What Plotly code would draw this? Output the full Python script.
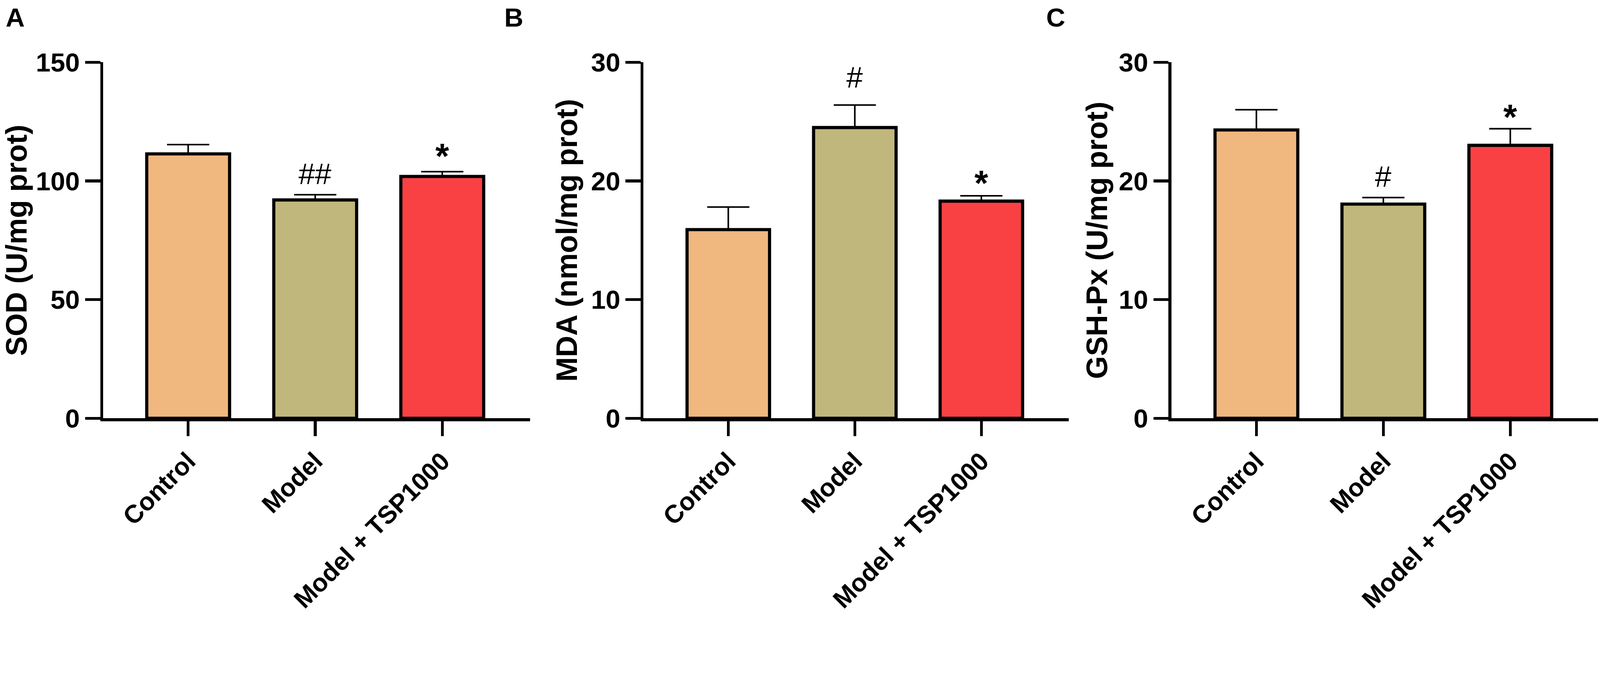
import plotly.graph_objects as go

# ---------------- data ----------------
groups = ["Control", "Model", "Model + TSP1000"]
bar_colors = ["#F0B77F", "#C0B77D", "#F94144"]

sod_mean = [111.4, 92.0, 101.9]
sod_err = [3.9, 2.2, 2.0]
sod_sig = ["", "##", "*"]

mda_mean = [15.9, 24.5, 18.3]
mda_err = [1.9, 1.9, 0.45]
mda_sig = ["", "#", "*"]

gsh_mean = [24.3, 18.05, 23.0]
gsh_err = [1.7, 0.55, 1.4]
gsh_sig = ["", "#", "*"]

y_titles = ["SOD (U/mg prot)", "MDA (nmol/mg prot)", "GSH-Px (U/mg prot)"]
y_ranges = [[0, 150], [0, 30], [0, 30]]
y_ticks = [[0, 50, 100, 150], [0, 10, 20, 30], [0, 10, 20, 30]]
panel_letters = ["A", "B", "C"]

# ---------------- layout constants ----------------
W, H = 4550, 1763
FONT = "Liberation Sans, Arial, sans-serif"
x_domains = [[293 / W, 1507 / W], [1830 / W, 3039 / W], [3331 / W, 4544 / W]]
y_domain = [1 - 1189 / H, 1 - 177 / H]
letter_x = [14, 1432, 2973]
title_standoff = [30, 15, 8]
sig_shift_panel = [[0, 10, -14], [0, 29, -21], [0, 11, -25]]

fig = go.Figure()
panels = [(sod_mean, sod_err, sod_sig), (mda_mean, mda_err, mda_sig), (gsh_mean, gsh_err, gsh_sig)]

annotations = []
for i, (mean, err, sig) in enumerate(panels):
    sfx = "" if i == 0 else str(i + 1)
    fig.add_trace(go.Bar(
        x=groups, y=mean, width=0.652,
        marker=dict(color=bar_colors, line=dict(color="black", width=9)),
        error_y=dict(type="data", array=err, arrayminus=[0] * len(err), symmetric=False,
                     color="black", thickness=4.5, width=60),
        xaxis="x" + sfx, yaxis="y" + sfx, showlegend=False, hoverinfo="skip",
    ))
    for j, s in enumerate(sig):
        if not s:
            continue
        is_star = s == "*"
        annotations.append(dict(
            x=groups[j], y=mean[j] + err[j], xref="x" + sfx, yref="y" + sfx,
            text=s, showarrow=False, xanchor="center", yanchor="bottom",
            yshift=sig_shift_panel[i][j],
            font=dict(family=FONT, size=100 if is_star else 84, color="black",
                      weight="bold" if is_star else "normal"),
        ))
    annotations.append(dict(
        x=letter_x[i] / W, y=1 - 6 / H, xref="paper", yref="paper",
        text=panel_letters[i], showarrow=False, xanchor="left", yanchor="top",
        font=dict(family=FONT, size=75, color="black", weight="bold"),
    ))

    common_axis = dict(showline=True, linecolor="black", linewidth=8, ticks="outside",
                       ticklen=43, tickwidth=8, tickcolor="black", showgrid=False,
                       zeroline=False, automargin=False)
    fig.update_layout(**{
        "xaxis" + sfx: dict(common_axis, domain=x_domains[i], anchor="y" + sfx,
                            type="category", range=[-0.67, 2.69], tickangle=-45,
                            tickfont=dict(family=FONT, size=72, color="black", weight="bold")),
        "yaxis" + sfx: dict(common_axis, domain=y_domain, anchor="x" + sfx,
                            range=y_ranges[i], tickvals=y_ticks[i],
                            tickfont=dict(family=FONT, size=75, color="black", weight="bold"),
                            title=dict(text=y_titles[i], standoff=title_standoff[i],
                                       font=dict(family=FONT, size=84, color="black", weight="bold"))),
    })

fig.update_layout(
    width=W, height=H, autosize=False,
    margin=dict(l=0, r=0, t=0, b=0),
    paper_bgcolor="white", plot_bgcolor="white",
    annotations=annotations,
    font=dict(family=FONT, color="black"),
)

# fit the fixed-size figure to the browser viewport (handles device-scale differences)
fit_script = """
(function(){
  var gd = document.getElementById('{plot_id}');
  document.documentElement.style.margin = '0';
  document.body.style.margin = '0';
  document.body.style.overflow = 'hidden';
  var s = Math.min(window.innerWidth / 4550, window.innerHeight / 1763);
  if (s > 0 && Math.abs(s - 1) > 0.001) {
    gd.style.transformOrigin = '0 0';
    gd.style.transform = 'scale(' + s + ')';
  }
})();
"""

fig.write_html("out.html", post_script=fit_script, config={"displayModeBar": False})
